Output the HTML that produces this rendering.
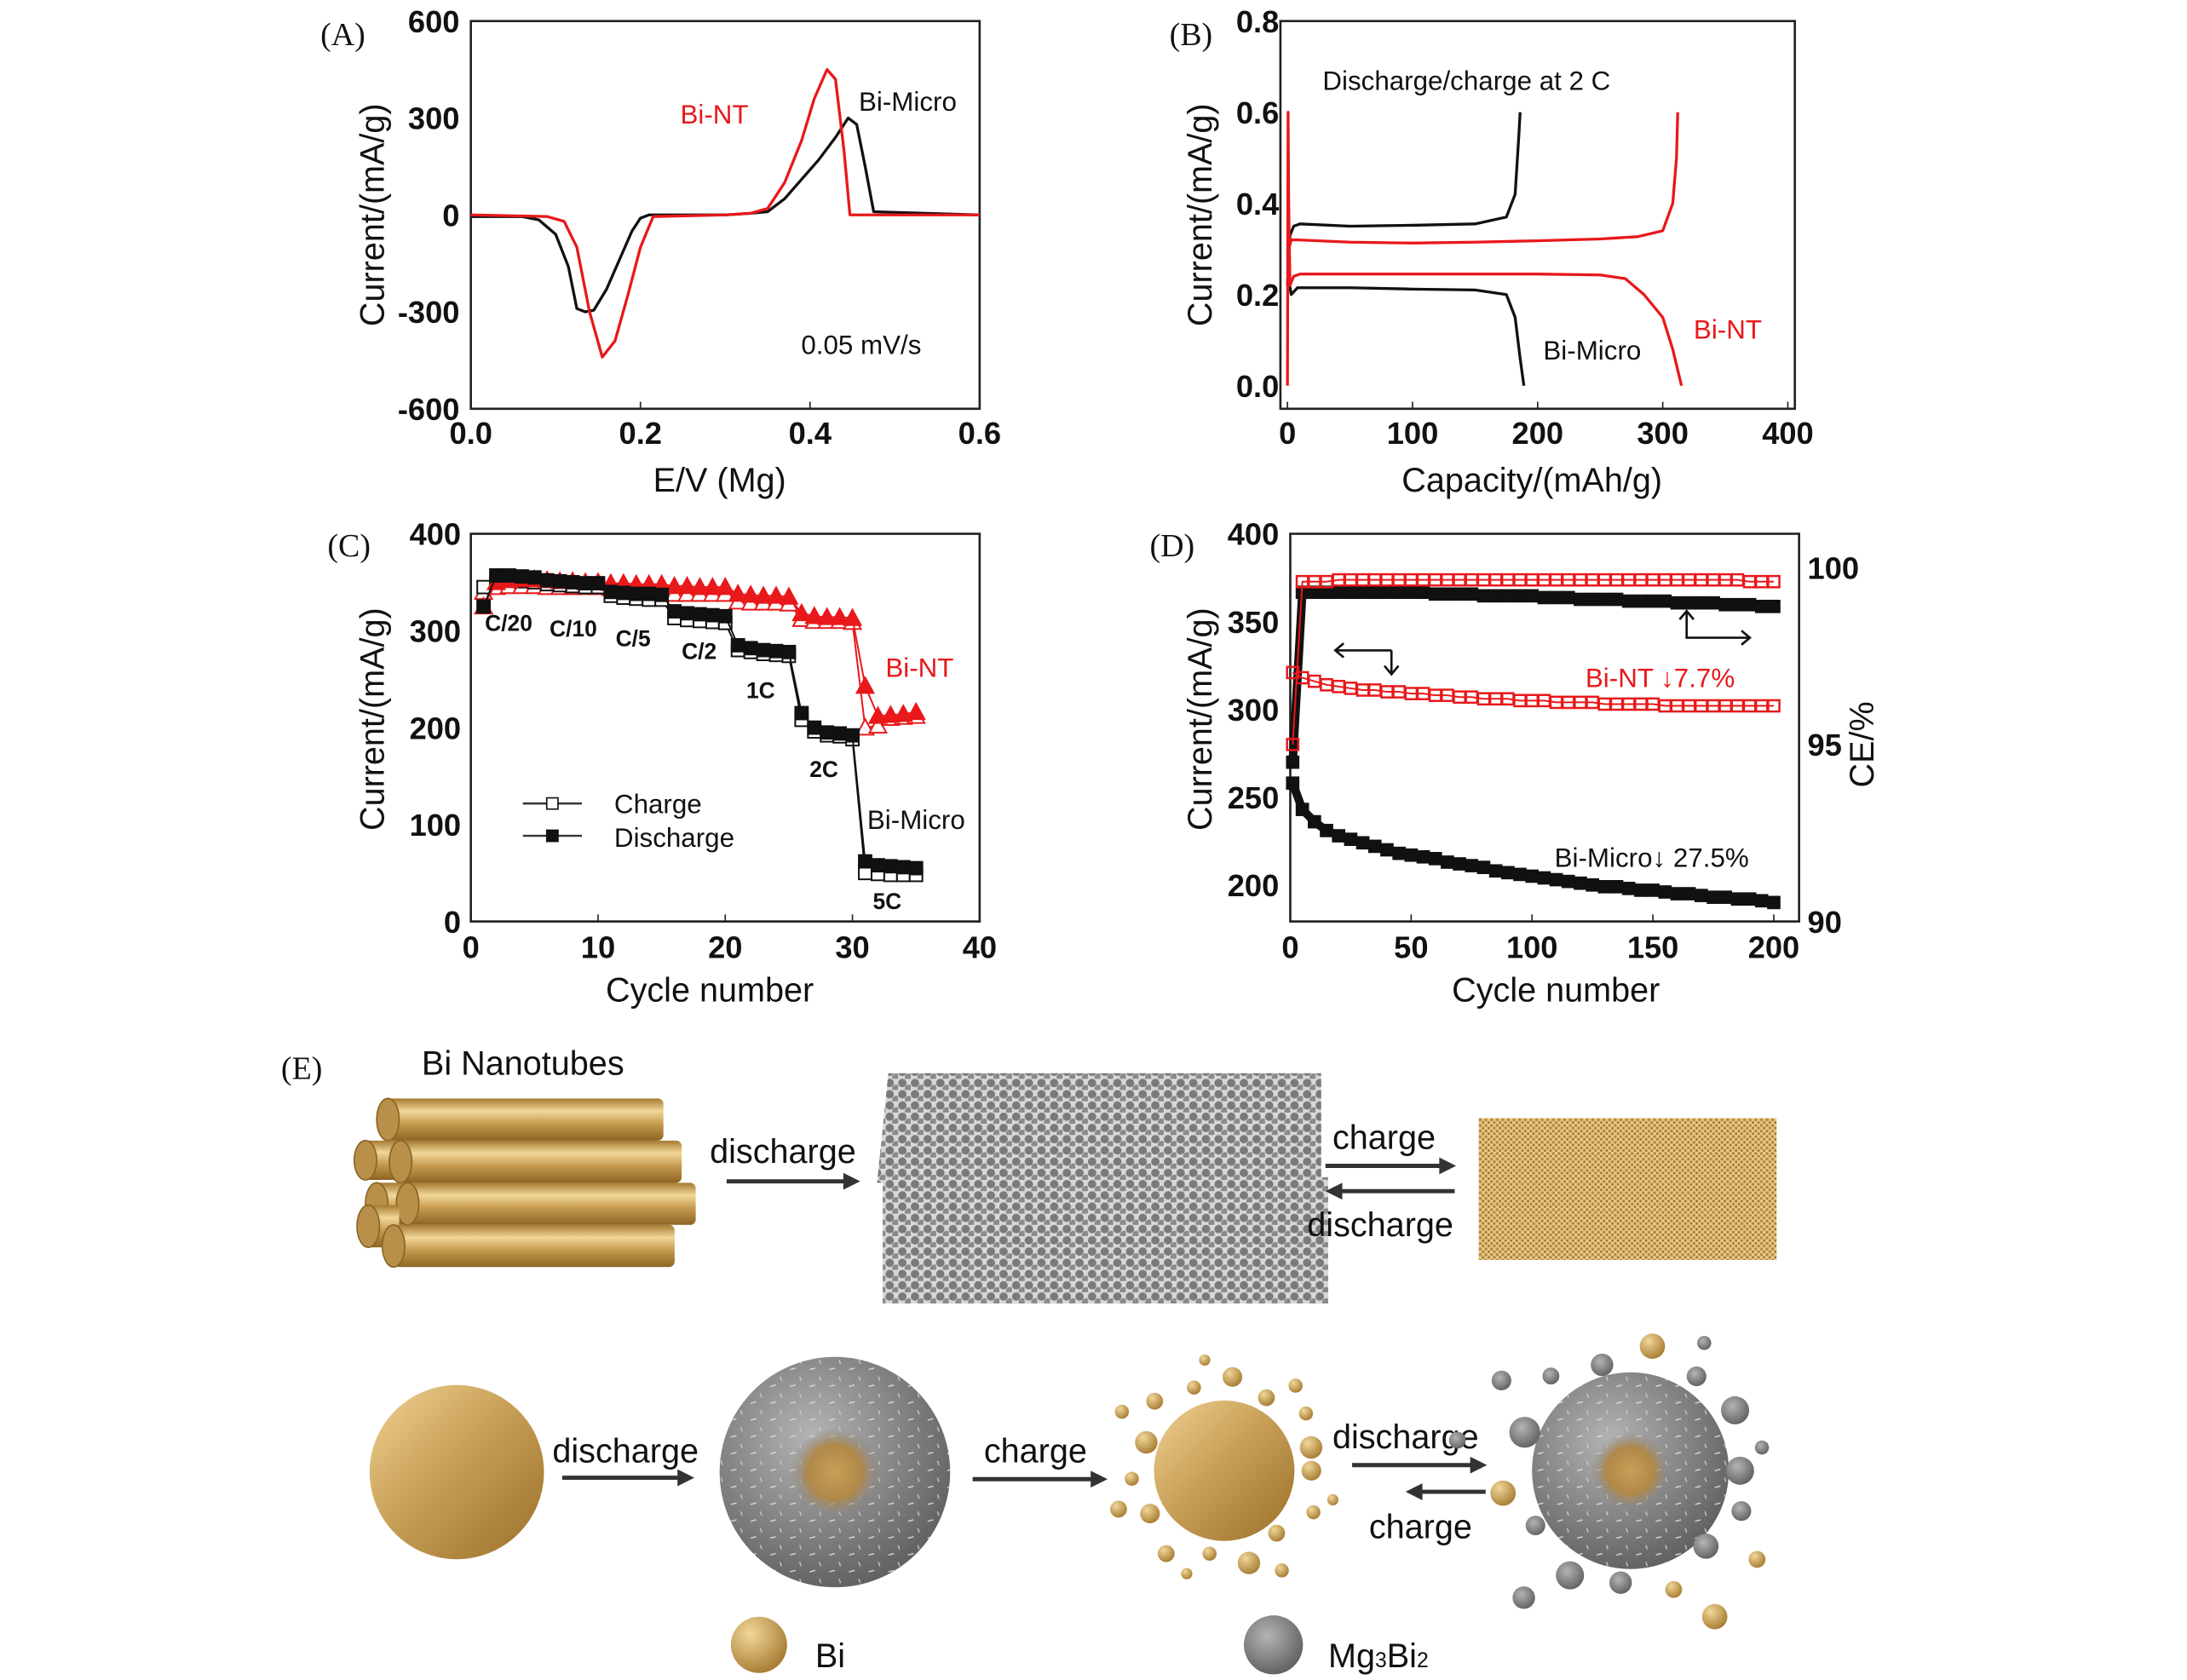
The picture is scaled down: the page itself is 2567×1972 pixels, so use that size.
<!DOCTYPE html>
<html><head><meta charset="utf-8"><style>
html,body{margin:0;padding:0;background:#fff;}
svg{display:block;font-family:"Liberation Sans",Arial,sans-serif;}
.tk{font-size:22px;font-weight:bold;fill:#111;}
.at{font-size:24px;fill:#111;}
.pl{font-family:"Liberation Serif",serif;font-size:23px;fill:#111;}
.an{font-size:19px;fill:#111;}
</style></head><body>
<svg id="fig" width="2567" height="1972" viewBox="0 0 1556 1196" preserveAspectRatio="none" xmlns="http://www.w3.org/2000/svg">
<defs>
<linearGradient id="gold" x1="0" y1="0" x2="1" y2="1"><stop offset="0" stop-color="#f0d192"/><stop offset="0.45" stop-color="#c9a058"/><stop offset="1" stop-color="#9a7028"/></linearGradient>
<linearGradient id="tube" x1="0" y1="0" x2="0" y2="1"><stop offset="0" stop-color="#a57a30"/><stop offset="0.3" stop-color="#f2d79a"/><stop offset="0.6" stop-color="#c69b50"/><stop offset="1" stop-color="#8c6422"/></linearGradient>
<radialGradient id="grayball" cx="0.4" cy="0.35" r="0.7"><stop offset="0" stop-color="#b4b4b4"/><stop offset="1" stop-color="#5e5e5e"/></radialGradient>
<radialGradient id="goldball" cx="0.35" cy="0.3" r="0.75"><stop offset="0" stop-color="#f2d79a"/><stop offset="1" stop-color="#a57a30"/></radialGradient>
<radialGradient id="core" cx="0.5" cy="0.5" r="0.5"><stop offset="0" stop-color="#c9a058"/><stop offset="0.6" stop-color="#b08848"/><stop offset="1" stop-color="#888" stop-opacity="0"/></radialGradient>
<pattern id="graytex" width="9" height="8" patternUnits="userSpaceOnUse"><rect width="9" height="8" fill="#d8d8d8"/><circle cx="3" cy="3" r="3" fill="#7a7a7a"/><circle cx="7.5" cy="7" r="2.8" fill="#8a8a8a"/></pattern>
<pattern id="goldtex" width="4" height="4" patternUnits="userSpaceOnUse"><rect width="4" height="4" fill="#e6c98a"/><circle cx="1.2" cy="1.2" r="1.1" fill="#b88a3c"/><circle cx="3.2" cy="3.1" r="0.9" fill="#a07428"/></pattern>
<pattern id="speck" width="14" height="12" patternUnits="userSpaceOnUse"><line x1="2" y1="3" x2="6" y2="2" stroke="#ddd" stroke-width="0.8"/><line x1="9" y1="8" x2="10" y2="11" stroke="#ccc" stroke-width="0.8"/></pattern>
</defs>
<g id="gA"></g>
<g id="gB"></g>
<g id="gC"></g>
<g id="gD"></g>
<g id="gE">
  <text class="pl" x="200" y="768">(E)</text>
  <text class="at" x="300" y="765">Bi Nanotubes</text>
  <g>
    <rect x="276" y="782" width="196" height="30" rx="4" fill="url(#tube)"/><ellipse cx="276" cy="797" rx="8" ry="15" fill="#b8904a" stroke="#8c6422"/>
    <rect x="260" y="812" width="25" height="28" fill="url(#tube)"/><ellipse cx="260" cy="826" rx="8" ry="14" fill="#b8904a" stroke="#8c6422"/>
    <rect x="285" y="812" width="200" height="30" rx="4" fill="url(#tube)"/><ellipse cx="285" cy="827" rx="8" ry="15" fill="#b8904a" stroke="#8c6422"/>
    <rect x="268" y="842" width="25" height="30" fill="url(#tube)"/><ellipse cx="268" cy="857" rx="8" ry="15" fill="#b8904a" stroke="#8c6422"/>
    <rect x="290" y="842" width="205" height="30" rx="4" fill="url(#tube)"/><ellipse cx="290" cy="857" rx="8" ry="15" fill="#b8904a" stroke="#8c6422"/>
    <rect x="262" y="858" width="22" height="30" fill="url(#tube)"/><ellipse cx="262" cy="873" rx="8" ry="15" fill="#b8904a" stroke="#8c6422"/>
    <rect x="280" y="872" width="200" height="30" rx="4" fill="url(#tube)"/><ellipse cx="280" cy="887" rx="8" ry="15" fill="#b8904a" stroke="#8c6422"/>
  </g>
  <text class="at" x="505" y="828">discharge</text>
  <path d="M517 841 H605" stroke="#333" stroke-width="3"/><path d="M612 841 l-12 -6 v12z" fill="#333"/>
  <path d="M632 764 H940 V838 H945 V928 H628 V842 H624 Z" fill="url(#graytex)"/>
  <text class="at" x="948" y="818">charge</text>
  <path d="M943 830 H1028" stroke="#333" stroke-width="3"/><path d="M1036 830 l-12 -6 v12z" fill="#333"/>
  <path d="M952 848 H1035" stroke="#333" stroke-width="3"/><path d="M943 848 l12 -6 v12z" fill="#333"/>
  <text class="at" x="930" y="880">discharge</text>
  <rect x="1052" y="796" width="212" height="101" fill="url(#goldtex)"/>
  <circle cx="325" cy="1048" r="62" fill="url(#gold)"/>
  <text class="at" x="393" y="1041">discharge</text>
  <path d="M400 1052 H486" stroke="#333" stroke-width="3"/><path d="M494 1052 l-12 -6 v12z" fill="#333"/>
  <g><circle cx="594" cy="1048" r="82" fill="url(#grayball)"/><circle cx="594" cy="1048" r="82" fill="url(#speck)"/><circle cx="594" cy="1048" r="32" fill="url(#core)"/></g>
  <text class="at" x="700" y="1041">charge</text>
  <path d="M692 1053 H780" stroke="#333" stroke-width="3"/><path d="M788 1053 l-12 -6 v12z" fill="#333"/>
  <g id="parts1"><circle cx="871" cy="1047" r="50" fill="url(#gold)"/></g>
  <text class="at" x="948" y="1031">discharge</text>
  <path d="M962 1043 H1050" stroke="#333" stroke-width="3"/><path d="M1058 1043 l-12 -6 v12z" fill="#333"/>
  <path d="M1008 1062 H1057" stroke="#333" stroke-width="3"/><path d="M1000 1062 l12 -6 v12z" fill="#333"/>
  <text class="at" x="974" y="1095">charge</text>
  <g id="parts2"><circle cx="1160" cy="1047" r="70" fill="url(#grayball)"/><circle cx="1160" cy="1047" r="70" fill="url(#speck)"/><circle cx="1160" cy="1047" r="28" fill="url(#core)"/></g>
  <circle cx="540" cy="1171" r="20" fill="url(#goldball)"/>
  <text class="at" x="580" y="1187">Bi</text>
  <circle cx="906" cy="1171" r="21" fill="url(#grayball)"/>
  <text class="at" x="945" y="1187">Mg<tspan font-size="15">3</tspan>Bi<tspan font-size="15">2</tspan></text>
</g>
</svg>
<script>
// ---- Panel A data ----
const cvMicroX = [0,0.06,0.08,0.10,0.115,0.125,0.135,0.145,0.16,0.175,0.19,0.2,0.21,0.3,0.33,0.35,0.37,0.39,0.41,0.43,0.445,0.455,0.465,0.475,0.6];
const cvMicroY = [-5,-5,-15,-60,-160,-290,-300,-295,-230,-140,-50,-10,0,0,5,10,50,110,170,240,300,280,150,10,0];
const cvNtX = [0,0.09,0.11,0.125,0.14,0.155,0.17,0.185,0.2,0.215,0.3,0.33,0.35,0.37,0.39,0.405,0.42,0.43,0.44,0.447,0.6];
const cvNtY = [0,-5,-20,-100,-300,-440,-390,-250,-100,-5,0,5,20,100,230,360,450,420,200,0,0];
const aXTicks = ["0.0","0.2","0.4","0.6"];
const aYTicks = ["-600","-300","0","300","600"];
// ---- Panel B data ----
const bMicroChgX = [0,2,5,10,50,100,150,175,182,185,186];
const bMicroChgY = [0.22,0.33,0.35,0.355,0.35,0.352,0.355,0.37,0.42,0.55,0.6];
const bMicroDisX = [0,3,8,50,100,150,175,182,186,189];
const bMicroDisY = [0.25,0.2,0.215,0.215,0.212,0.21,0.2,0.15,0.06,0];
const bNtChgX = [1,3,8,50,100,150,200,250,280,300,308,311,312];
const bNtChgY = [0.3,0.32,0.32,0.315,0.313,0.315,0.318,0.322,0.327,0.34,0.4,0.5,0.6];
const bNtDisX = [0,0.5,1,2,5,10,50,100,150,200,250,270,285,300,308,315];
const bNtDisY = [0,0.6,0.4,0.22,0.24,0.245,0.245,0.245,0.245,0.245,0.243,0.235,0.2,0.15,0.08,0];
const bXTicks = ["0","100","200","300","400"];
const bYTicks = ["0.0","0.2","0.4","0.6","0.8"];
// ---- Panel C data ----
const cMicroDis = [325,357,357,356,355,352,351,350,349,349,340,339,338,338,337,320,318,317,316,315,285,282,280,279,278,215,200,195,194,192,62,58,57,56,55];
const cMicroChg = [345,350,352,351,350,348,347,346,345,345,336,334,333,332,332,313,311,310,309,308,280,278,276,275,274,208,196,192,191,188,50,49,48,48,48];
const cNtDis = [325,350,352,353,353,352,351,351,350,350,349,349,348,348,348,346,346,345,345,345,338,337,336,336,335,318,315,314,314,313,243,212,213,214,216];
const cNtChg = [340,345,346,346,346,345,345,345,345,345,344,344,344,344,344,338,338,338,338,338,330,329,329,329,328,312,310,310,310,309,200,202,210,211,212];
const cXTicks = ["0","10","20","30","40"];
const cYTicks = ["0","100","200","300","400"];
// ---- Panel D data ----
const dCycles = [1,5,10,15,20,25,30,35,40,45,50,55,60,65,70,75,80,85,90,95,100,105,110,115,120,125,130,135,140,145,150,155,160,165,170,175,180,185,190,195,200];
const dMicroCap = [258,243,236,231,228,226,224,222,220,218,217,216,215,213,212,211,210,208,207,206,205,204,203,202,201,200,199,199,198,197,197,196,195,195,194,193,193,192,192,191,190];
const dNtCap = [321,318,316,314,313,312,311,311,310,310,309,309,308,308,307,307,306,306,306,305,305,305,304,304,304,304,303,303,303,303,303,302,302,302,302,302,302,302,302,302,302];
const dMicroCE = [94.5,99.3,99.3,99.3,99.3,99.3,99.3,99.3,99.3,99.3,99.3,99.3,99.25,99.25,99.25,99.25,99.2,99.2,99.2,99.2,99.2,99.15,99.15,99.15,99.1,99.1,99.1,99.1,99.05,99.05,99.05,99.05,99.0,99.0,99.0,99.0,98.95,98.95,98.95,98.9,98.9];
const dNtCE = [95.0,99.6,99.6,99.6,99.65,99.65,99.65,99.65,99.65,99.65,99.65,99.65,99.65,99.65,99.65,99.65,99.65,99.65,99.65,99.65,99.65,99.65,99.65,99.65,99.65,99.65,99.65,99.65,99.65,99.65,99.65,99.65,99.65,99.65,99.65,99.65,99.65,99.65,99.6,99.6,99.6];
const dXTicks = ["0","50","100","150","200"];
const dYTicks = ["200","250","300","350","400"];
const dY2Ticks = ["90","95","100"];

const NS = "http://www.w3.org/2000/svg";
function el(tag, parent, attrs){const e=document.createElementNS(NS,tag);for(const k in attrs)e.setAttribute(k,attrs[k]);parent.appendChild(e);return e;}
function txt(parent, x, y, s, cls, anchor){const t=el("text",parent,{x:x,y:y,class:cls,"text-anchor":anchor||"start"});t.textContent=s;return t;}
function poly(parent, xs, ys, fx, fy, color, w){return el("polyline",parent,{points:xs.map((v,i)=>fx(v)+","+fy(ys[i])).join(" "),fill:"none",stroke:color,"stroke-width":w,"stroke-linejoin":"round"});}
function frame(g,x0,y0,x1,y1){const r=el("rect",g,{x:x0,y:y0,width:x1-x0,height:y1-y0,fill:"none",stroke:"#222","stroke-width":1.6});}

// ===== Panel A =====
(function(){
const g=document.getElementById("gA");
const X0=335,X1=697,Y0=15,Y1=291;
const fx=v=>X0+v/0.6*(X1-X0), fy=v=>153-v*(138/600);
frame(g,X0,Y0,X1,Y1);
aXTicks.forEach(s=>{const v=parseFloat(s);const t=txt(g,fx(v),316,s,"tk","middle");el("line",g,{x1:fx(v),x2:fx(v),y1:Y1,y2:Y1-5,stroke:"#222"});});
aYTicks.forEach(s=>{const v=parseFloat(s);const t=txt(g,327,fy(v)+8,s,"tk","end");});
const t1=txt(g,512,350,"E/V (Mg)","at","middle");
const t2=txt(g,0,0,"Current/(mA/g)","at","middle");t2.setAttribute("transform","translate(273,153) rotate(-90)");
const pl=txt(g,228,32,"(A)","pl");
const m=poly(g,cvMicroX,cvMicroY,fx,fy,"#111",2);
const n=poly(g,cvNtX,cvNtY,fx,fy,"#e8181b",2);
const l1=txt(g,484,88,"Bi-NT","an");l1.setAttribute("fill","#e8181b");l1.style.fill="#e8181b";
const l2=txt(g,611,79,"Bi-Micro","an");
const l3=txt(g,570,252,"0.05 mV/s","an");
})();

// ===== Panel B =====
(function(){
const g=document.getElementById("gB");
const X0=911,X1=1277,Y0=15,Y1=291;
const fx=v=>916+v*(356/400), fy=v=>274.6-v*(259.6/0.8);
frame(g,X0,Y0,X1,Y1);
bXTicks.forEach(s=>{const v=parseFloat(s);const t=txt(g,fx(v),316,s,"tk","middle");el("line",g,{x1:fx(v),x2:fx(v),y1:Y1,y2:Y1-5,stroke:"#222"});});
bYTicks.forEach(s=>{const v=parseFloat(s);const t=txt(g,910,fy(v)+8,s,"tk","end");});
const t1=txt(g,1090,350,"Capacity/(mAh/g)","at","middle");
const t2=txt(g,0,0,"Current/(mA/g)","at","middle");t2.setAttribute("transform","translate(862,153) rotate(-90)");
const pl=txt(g,832,32,"(B)","pl");
const a=poly(g,bMicroChgX,bMicroChgY,fx,fy,"#111",2);
const b=poly(g,bMicroDisX,bMicroDisY,fx,fy,"#111",2);
const c=poly(g,bNtChgX,bNtChgY,fx,fy,"#e8181b",2);
const d=poly(g,bNtDisX,bNtDisY,fx,fy,"#e8181b",2);
const l0=txt(g,941,64,"Discharge/charge at 2 C","an");
const l1=txt(g,1098,256,"Bi-Micro","an");
const l2=txt(g,1205,241,"Bi-NT","an");l2.style.fill="#e8181b";
})();

// ===== Panel C =====
(function(){
const g=document.getElementById("gC");
const X0=335,X1=697,Y0=380,Y1=656;
const fx=v=>X0+v*((X1-X0)/40), fy=v=>Y1-v*(276/400);
frame(g,X0,Y0,X1,Y1);
cXTicks.forEach(s=>{const v=parseFloat(s);const t=txt(g,fx(v),682,s,"tk","middle");el("line",g,{x1:fx(v),x2:fx(v),y1:Y1,y2:Y1-5,stroke:"#222"});});
cYTicks.forEach(s=>{const v=parseFloat(s);const t=txt(g,328,fy(v)+8,s,"tk","end");});
const t1=txt(g,505,713,"Cycle number","at","middle");
const t2=txt(g,0,0,"Current/(mA/g)","at","middle");t2.setAttribute("transform","translate(273,512) rotate(-90)");
const pl=txt(g,233,396,"(C)","pl");
const cyc=cMicroDis.map((_,i)=>i+1);
function series(vals,color,kind,name){
  const p=poly(g,cyc,vals,fx,fy,color,1.2);
  vals.forEach((v,i)=>{let m;
    if(kind==="sqf"||kind==="sqo"){m=el("rect",g,{x:fx(i+1)-4.5,y:fy(v)-4.5,width:9,height:9,fill:kind==="sqf"?color:"#fff",stroke:color,"stroke-width":1.2});}
    else{const x=fx(i+1),y=fy(v);m=el("polygon",g,{points:`${x},${y-6} ${x-6},${y+5} ${x+6},${y+5}`,fill:kind==="trf"?color:"#fff",stroke:color,"stroke-width":1.2});}
    });
}
series(cNtChg,"#e8181b","tro","bi-nt-charge");
series(cMicroChg,"#111","sqo","bi-micro-charge");
series(cNtDis,"#e8181b","trf","bi-nt-discharge");
series(cMicroDis,"#111","sqf","bi-micro-discharge");
const labs=[["C/20",345,449],["C/10",391,453],["C/5",438,460],["C/2",485,469],["1C",531,497],["2C",576,553],["5C",621,647]];
labs.forEach(l=>{const t=txt(g,l[1],l[2],l[0],"tk");t.style.fontSize="16px";});
const bn=txt(g,630,482,"Bi-NT","an");bn.style.fill="#e8181b";
const bm=txt(g,617,590,"Bi-Micro","an");
const lg=el("g",g,{});
el("line",lg,{x1:372,x2:414,y1:572,y2:572,stroke:"#333","stroke-width":1.5});el("rect",lg,{x:389,y:568,width:8,height:8,fill:"#fff",stroke:"#111"});
el("line",lg,{x1:372,x2:414,y1:595,y2:595,stroke:"#333","stroke-width":1.5});el("rect",lg,{x:389,y:591,width:8,height:8,fill:"#111",stroke:"#111"});
const e1=txt(lg,437,579,"Charge","an");
const e2=txt(lg,437,603,"Discharge","an");
})();

// ===== Panel D =====
(function(){
const g=document.getElementById("gD");
const X0=918,X1=1280,Y0=380,Y1=656;
const fx=v=>X0+v*1.72, fy=v=>630-(v-200)*1.25, fy2=v=>404-(v-100)*25.2;
frame(g,X0,Y0,X1,Y1);
dXTicks.forEach(s=>{const v=parseFloat(s);const t=txt(g,fx(v),682,s,"tk","middle");el("line",g,{x1:fx(v),x2:fx(v),y1:Y1,y2:Y1-5,stroke:"#222"});});
dYTicks.forEach(s=>{const v=parseFloat(s);const t=txt(g,910,fy(v)+8,s,"tk","end");});
dY2Ticks.forEach(s=>{const v=parseFloat(s);const t=txt(g,1286,fy2(v)+8,s,"tk");});
const t1=txt(g,1107,713,"Cycle number","at","middle");
const t2=txt(g,0,0,"Current/(mA/g)","at","middle");t2.setAttribute("transform","translate(862,512) rotate(-90)");
const t3=txt(g,0,0,"CE/%","at","middle");t3.setAttribute("transform","translate(1333,530) rotate(-90)");
const pl=txt(g,818,396,"(D)","pl");
function ser(ys,f,color,filled,name){
  const p=poly(g,dCycles,ys.map(f),v=>fx(v),v=>v,color,filled?6:1.2);
  ys.forEach((v,i)=>{const m=el("rect",g,{x:fx(dCycles[i])-4,y:f(v)-4,width:8,height:8,fill:filled?color:"none",stroke:color,"stroke-width":1.5});});
}
ser(dMicroCE,fy2,"#111",true,"bi-micro-ce");
ser(dNtCE,fy2,"#e8181b",false,"bi-nt-ce");
ser(dNtCap,fy,"#e8181b",false,"bi-nt-capacity");
ser(dMicroCap,fy,"#111",true,"bi-micro-capacity");
const ar=el("g",g,{fill:"none",stroke:"#111","stroke-width":1.6});
el("path",ar,{d:"M990 463 H950 M956 458 L950 463 L956 468 M990 463 V480 M985 474 L990 480 L995 474"});
el("path",ar,{d:"M1200 435 V454 H1245 M1239 449 L1245 454 L1239 459 M1195 441 L1200 435 L1205 441"});
const bn=txt(g,1128,489,"Bi-NT  ↓7.7%","an");bn.style.fill="#e8181b";
const bm=txt(g,1106,617,"Bi-Micro↓ 27.5%","an");
})();

// particles around spheres in panel E
const p1Angles=[0,25,50,75,100,125,150,175,200,225,250,275,300,325,345,15,60,110,160,210,260,310];
const p1Dist=[62,70,58,68,60,72,61,66,59,70,63,67,60,71,64,80,82,78,80,84,80,79];
const p1Size=[7,5,6,8,5,6,7,5,8,6,5,7,6,5,8,4,5,4,6,5,4,5];
const p2Angles=[0,20,45,70,95,120,150,170,200,230,255,280,305,330,350,35,130,215,300,60,190];
const p2Dist=[78,84,76,90,80,86,78,92,80,88,78,90,82,86,95,110,118,112,105,120,125];
const p2Size=[10,7,9,6,8,10,7,9,11,6,8,9,7,10,5,6,8,7,5,9,6];
(function(){
const g1=document.getElementById("parts1"), g2=document.getElementById("parts2");
p1Angles.forEach((a,i)=>{const r=a*Math.PI/180;const c=el("circle",g1,{cx:871+p1Dist[i]*Math.cos(r),cy:1047+p1Dist[i]*Math.sin(r),r:p1Size[i],fill:"url(#goldball)"});});
p2Angles.forEach((a,i)=>{const r=a*Math.PI/180;const c=el("circle",g2,{cx:1160+p2Dist[i]*Math.cos(r),cy:1047+p2Dist[i]*Math.sin(r),r:p2Size[i],fill:i%4===3?"url(#goldball)":"url(#grayball)"});});
})();
</script>
</body></html>
